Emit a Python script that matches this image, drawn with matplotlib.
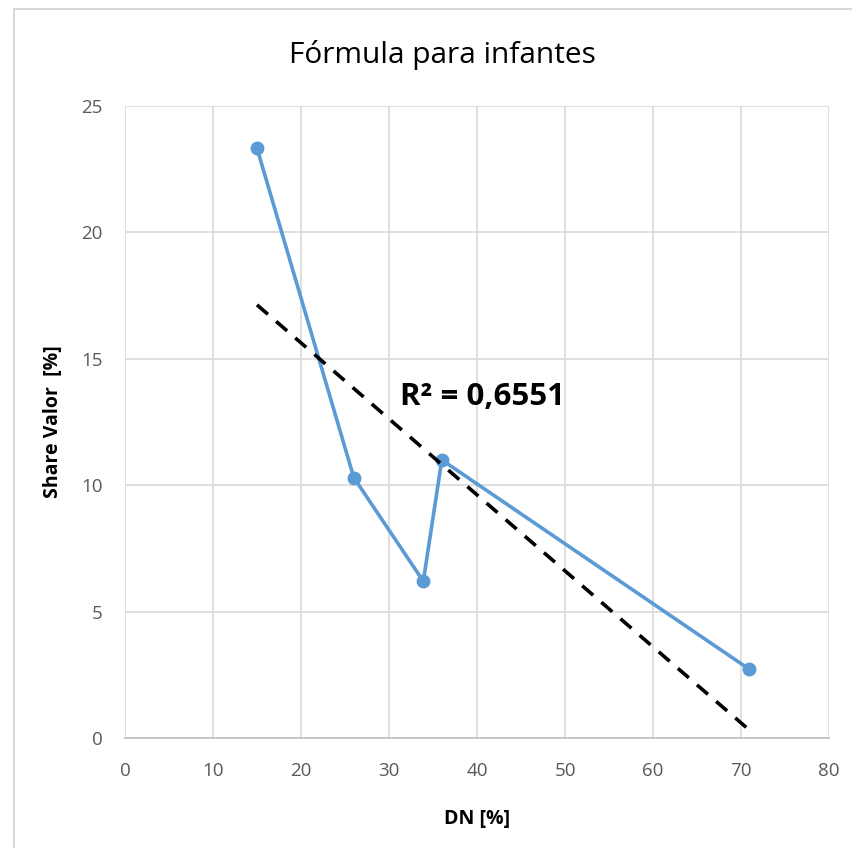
import matplotlib as mpl
mpl.use('Agg')
import matplotlib.pyplot as plt
import matplotlib.patches as mpatches
import numpy as np
from matplotlib import rcParams

rcParams['font.family'] = ['Open Sans', 'DejaVu Sans']

# data
dn_pct    = [15.0, 26.0, 33.9, 36.0, 70.9]
share_pct = [23.33, 10.3, 6.2, 11.0, 2.73]
x_ticks   = [0, 10, 20, 30, 40, 50, 60, 70, 80]
y_ticks   = [0, 5, 10, 15, 20, 25]
r2_label  = 'R² = 0,6551'

fig = plt.figure(figsize=(8.52, 8.48), dpi=100)
ax = fig.add_axes([125/852, 1-738/848, (829-125)/852, (738-106)/848])

# outer chart border
fig.patches.append(mpatches.Rectangle((14/852, -0.01), 1, 1.01-9/848, transform=fig.transFigure,
                                      fill=False, edgecolor='#d9d9d9', linewidth=1.5))

ax.set_xlim(0, 80)
ax.set_ylim(0, 25)
ax.set_xticks(x_ticks)
ax.set_yticks(y_ticks)
ax.grid(True, color='#d9d9d9', linewidth=1.2)
ax.set_axisbelow(True)
for s in ['top', 'right', 'left']:
    ax.spines[s].set_visible(False)
ax.spines['bottom'].set_color('#bfbfbf')
ax.spines['bottom'].set_linewidth(1.2)
ax.tick_params(axis='x', length=0, colors='#595959', labelsize=13.5, pad=17)
ax.tick_params(axis='y', length=0, colors='#595959', labelsize=13.5, pad=16)

ax.plot(dn_pct, share_pct, color='#5b9bd5', linewidth=2.6, marker='o',
        markersize=9, zorder=3)

# linear trendline
k, b = np.polyfit(dn_pct, share_pct, 1)
xs = np.array([min(dn_pct), max(dn_pct)])
ax.plot(xs, k*xs + b, color='black', linewidth=2.6, linestyle=(0, (4, 3)), zorder=4)

ax.text(31.3, 13.5, r2_label, fontsize=22.5, fontweight='bold', color='black', va='center')

ax.set_xlabel('DN [%]', fontsize=14, fontweight='bold')
ax.set_ylabel('Share Valor  [%]', fontsize=14, fontweight='bold')
ax.xaxis.set_label_coords(477/852, 1-809/848, transform=fig.transFigure)
ax.yaxis.set_label_coords(63/852, 1-422/848, transform=fig.transFigure)
fig.text(442/852, 1-55/848, 'Fórmula para infantes', fontsize=21.5, ha='center',
         va='center', color='black')

plt.savefig('out.png', dpi=100)
